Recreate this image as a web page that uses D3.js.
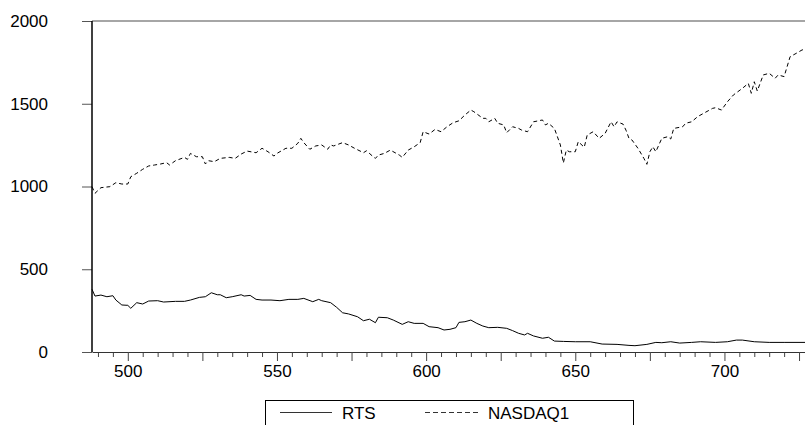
<!DOCTYPE html>
<html>
<head>
<meta charset="utf-8">
<script src="https://cdn.jsdelivr.net/npm/d3@7"></script>
<style>
    body { margin: 0; background: #fff; }
    svg { display: block; font-family: "Liberation Sans", Arial, sans-serif; }
</style>
</head>
<body>
<svg id="chart" width="805" height="425"></svg>
<script>
const rtsObs = [488, 489, 491, 493, 495, 496, 498, 500, 501, 503, 505, 507, 510, 512, 516, 519, 521, 524, 526, 528,
    530, 531, 533, 535, 538, 539, 541, 543, 545, 548, 551, 554, 557, 559, 562, 564, 565, 568, 570, 572,
    574, 577, 579, 581, 583, 584, 587, 589, 592, 594, 596, 599, 601, 604, 606, 608, 610, 611, 613, 615,
    617, 619, 621, 624, 627, 629, 631, 633, 634, 636, 639, 641, 643, 646, 650, 655, 659, 664, 668, 670,
    674, 677, 679, 682, 685, 689, 692, 697, 701, 704, 706, 710, 715, 720, 727];
const rtsValues = [379, 338, 344, 334, 340, 314, 284, 282, 264, 298, 290, 308, 310, 302, 306, 306, 314, 330, 334, 358,
    346, 346, 328, 334, 346, 338, 342, 318, 314, 314, 310, 318, 318, 324, 304, 318, 310, 298, 270, 237,
    230, 213, 189, 198, 177, 210, 207, 193, 167, 183, 173, 173, 153, 147, 133, 137, 147, 179, 183, 193,
    173, 157, 147, 149, 143, 129, 113, 103, 113, 97, 83, 89, 66, 64, 62, 62, 48, 46, 40, 38,
    46, 58, 56, 62, 54, 58, 62, 58, 62, 72, 72, 62, 58, 58, 58];

const nasdaqObs = [488, 489, 491, 494, 496, 498, 500, 501, 503, 505, 507, 509, 511, 513, 514, 516, 519, 520, 521, 523,
    525, 526, 527, 529, 531, 534, 536, 538, 540, 543, 545, 547, 549, 550, 553, 555, 557, 558, 559, 561,
    563, 565, 567, 568, 569, 572, 574, 576, 579, 580, 582, 583, 584, 586, 588, 591, 592, 594, 596, 598,
    599, 601, 603, 605, 607, 609, 611, 613, 615, 616, 619, 620, 621, 623, 624, 626, 627, 629, 631, 632,
    634, 636, 639, 640, 641, 643, 645, 646, 647, 648, 650, 651, 653, 654, 656, 658, 660, 662, 663, 664,
    666, 667, 668, 669, 671, 673, 674, 675, 676, 677, 679, 681, 682, 683, 686, 687, 689, 691, 693, 696,
    697, 699, 701, 703, 706, 708, 709, 710, 711, 713, 715, 717, 718, 720, 722, 724, 726, 727];
const nasdaqValues = [999, 959, 993, 999, 1023, 1015, 1015, 1059, 1080, 1104, 1124, 1130, 1136, 1144, 1130, 1156, 1176, 1164, 1200, 1180,
    1180, 1136, 1156, 1150, 1170, 1176, 1170, 1196, 1214, 1204, 1231, 1210, 1184, 1200, 1231, 1231, 1261, 1291, 1265, 1225,
    1245, 1251, 1225, 1251, 1245, 1265, 1251, 1231, 1204, 1216, 1184, 1170, 1190, 1200, 1220, 1190, 1176, 1220, 1240, 1265,
    1331, 1317, 1345, 1331, 1361, 1385, 1397, 1432, 1462, 1452, 1412, 1412, 1391, 1412, 1382, 1372, 1325, 1361, 1351, 1341,
    1331, 1391, 1402, 1372, 1382, 1351, 1251, 1142, 1220, 1210, 1210, 1271, 1237, 1311, 1331, 1291, 1321, 1391, 1361, 1391,
    1377, 1340, 1291, 1281, 1231, 1170, 1134, 1210, 1240, 1210, 1291, 1301, 1287, 1351, 1361, 1382, 1391, 1422, 1442, 1472,
    1476, 1462, 1512, 1553, 1593, 1623, 1563, 1633, 1577, 1674, 1684, 1654, 1674, 1664, 1784, 1804, 1825, 1829];

const yTickValues = [0, 500, 1000, 1500, 2000];
const xLabelValues = [500, 550, 600, 650, 700];
const legendLabels = ["RTS", "NASDAQ1"];

const svg = d3.select("#chart");

const plot = { left: 92, right: 805, top: 21, bottom: 352 };

const x = d3.scaleLinear().domain([488, 727]).range([plot.left, plot.right]);
const y = d3.scaleLinear().domain([0, 2000]).range([plot.bottom, plot.top]);

const fontSize = "17px";

// top frame line
svg.append("line")
    .attr("x1", plot.left)
    .attr("x2", plot.right)
    .attr("y1", plot.top)
    .attr("y2", plot.top)
    .style("stroke", "#888")
    .style("stroke-width", 1.5);

// x axis: small ticks every 5, longer ones every 25, labels every 50
const xMinor = svg.append("g")
    .attr("transform", `translate(0,${plot.bottom})`)
    .call(d3.axisBottom(x)
        .tickValues(d3.range(490, 728, 5).filter((v) => v % 25 !== 0))
        .tickSize(5)
        .tickSizeOuter(0)
        .tickFormat(""));
xMinor.select(".domain").remove();

const xMajor = svg.append("g")
    .attr("transform", `translate(0,${plot.bottom})`)
    .call(d3.axisBottom(x)
        .tickValues(d3.range(500, 728, 25))
        .tickSize(9)
        .tickSizeOuter(0)
        .tickPadding(4)
        .tickFormat((d) => (xLabelValues.includes(d) ? d : "")));
xMajor.select(".domain")
    .style("stroke", "#333");

[xMinor, xMajor].forEach((g) => {
    g.selectAll(".tick line").style("stroke", "#444");
    g.selectAll("text")
        .style("font-size", fontSize)
        .style("font-family", "Liberation Sans, Arial, sans-serif")
        .attr("fill", "#000");
});

// y axis
const yAxis = svg.append("g")
    .attr("transform", `translate(${plot.left},0)`)
    .call(d3.axisLeft(y)
        .tickValues(yTickValues)
        .tickFormat(d3.format("d"))
        .tickSize(10)
        .tickSizeOuter(0)
        .tickPadding(34));
yAxis.select(".domain").remove();
yAxis.selectAll(".tick line").style("stroke", "#555");
yAxis.selectAll("text")
    .style("font-size", fontSize)
    .style("font-family", "Liberation Sans, Arial, sans-serif")
    .attr("fill", "#000");

svg.append("line")
    .attr("x1", plot.left)
    .attr("x2", plot.left)
    .attr("y1", plot.top)
    .attr("y2", plot.bottom)
    .style("stroke", "#000")
    .style("stroke-width", 1.5);

// series
const line = d3.line()
    .x((d) => x(d[0]))
    .y((d) => y(d[1]));

const rtsData = rtsObs.map((o, i) => [o, rtsValues[i]]);
const nasdaqData = nasdaqObs.map((o, i) => [o, nasdaqValues[i]]);

svg.append("path")
    .datum(rtsData)
    .attr("d", line)
    .attr("fill", "none")
    .style("stroke", "#000")
    .style("stroke-width", 1);

svg.append("path")
    .datum(nasdaqData)
    .attr("d", line)
    .attr("fill", "none")
    .style("stroke", "#000")
    .style("stroke-width", 1)
    .style("stroke-dasharray", "4,3");

// legend
const legend = svg.append("g");
legend.append("rect")
    .attr("x", 265.5)
    .attr("y", 400.5)
    .attr("width", 368)
    .attr("height", 40)
    .attr("fill", "#fff")
    .style("stroke", "#000")
    .style("stroke-width", 1);

const legendItems = [
    { label: legendLabels[0], x1: 280, x2: 332, tx: 342, dash: null },
    { label: legendLabels[1], x1: 425, x2: 479, tx: 488, dash: "5,3" },
];

legendItems.forEach((item) => {
    legend.append("line")
        .attr("x1", item.x1)
        .attr("x2", item.x2)
        .attr("y1", 412.5)
        .attr("y2", 412.5)
        .style("stroke", "#333")
        .style("stroke-width", 1)
        .style("stroke-dasharray", item.dash);
    legend.append("text")
        .attr("x", item.tx)
        .attr("y", 418.5)
        .style("font-size", fontSize)
        .text(item.label);
});
</script>
</body>
</html>
